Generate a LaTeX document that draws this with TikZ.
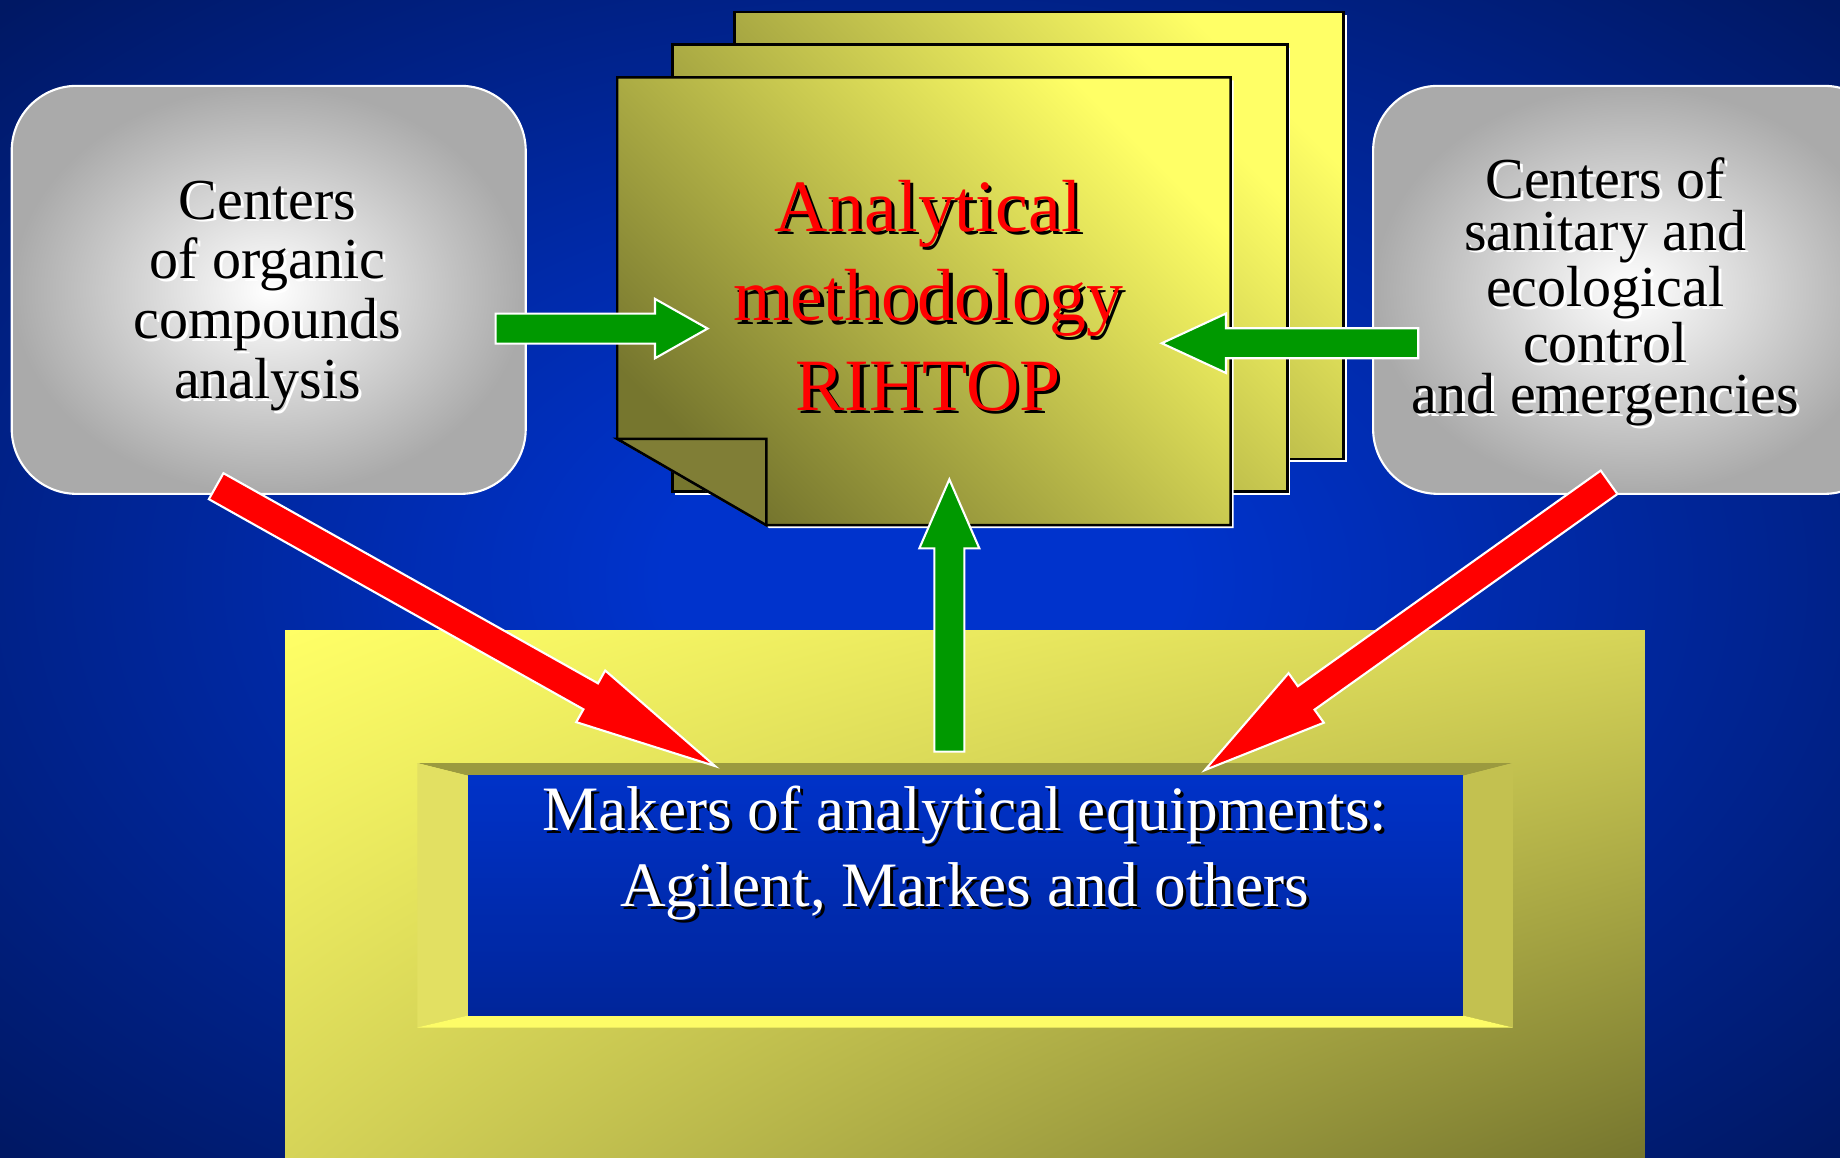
\documentclass[tikz,border=0pt]{standalone}
\usepackage{fontspec}
\setmainfont{Liberation Serif}
\usepackage{tikz}
\usetikzlibrary{calc,shadings}
\definecolor{bgdark}{RGB}{0,24,100}
\definecolor{bglight}{RGB}{0,51,204}
\definecolor{boxgray}{RGB}{170,170,170}
\definecolor{pagelight}{RGB}{255,255,102}
\definecolor{pagedark}{RGB}{118,118,46}
\definecolor{panelmid}{RGB}{214,212,88}
\definecolor{foldolive}{RGB}{128,126,54}
\definecolor{bevtop}{RGB}{155,154,63}
\definecolor{bevleft}{RGB}{226,224,98}
\definecolor{bevright}{RGB}{195,193,80}
\definecolor{bevbot}{RGB}{253,252,103}
\definecolor{winlight}{RGB}{0,50,200}
\definecolor{windark}{RGB}{0,37,154}
\definecolor{arrowgreen}{RGB}{0,153,0}
\pgfdeclareradialshading{bgglow}{\pgfpoint{0bp}{0bp}}{color(0bp)=(bglight); color(7bp)=(bglight); color(35bp)=(bgdark); color(50bp)=(bgdark)}
\tikzset{
  graybox/.style   = {shade, inner color=white, outer color=boxgray, draw=white,
                      line width=0.6pt, rounded corners=0.65cm},
  sheet/.style     = {top color=pagelight, bottom color=pagedark, shading angle=-45,
                      draw=black, line width=0.7pt},
  basepanel/.style = {upper left=pagelight, lower right=pagedark,
                      upper right=panelmid, lower left=panelmid},
  greenarrow/.style = {fill=arrowgreen, draw=white, line width=0.6pt},
  redarrow/.style   = {fill=red, draw=white, line width=0.6pt},
  titletext/.style = {align=center, inner sep=0pt, font=\fontsize{21}{25.5}\selectfont},
  orgtext/.style   = {align=center, inner sep=0pt, font=\fontsize{16.5}{17}\selectfont},
  santext/.style   = {align=center, inner sep=0pt, font=\fontsize{16.5}{14.6}\selectfont},
  maktext/.style   = {align=center, inner sep=0pt, font=\fontsize{18}{21.6}\selectfont}
}
% block arrow: style, tail, tip, half shaft, half head, head length
\newcommand{\blockarrow}[6]{%
  \coordinate (ba) at ($(#3)!#6!(#2)$);
  \path[#1] ($(#2)!#4!90:(#3)$) -- ($(ba)!#4!90:(#3)$) -- ($(ba)!#5!90:(#3)$) -- (#3)
    -- ($(ba)!#5!-90:(#3)$) -- ($(ba)!#4!-90:(#3)$) -- ($(#2)!#4!-90:(#3)$) -- cycle;}

\begin{document}
\begin{tikzpicture}[x=0.011735cm, y=-0.011735cm]
  \useasboundingbox (0,0) rectangle (1568,986);
  \clip (0,0) rectangle (1568,986);
  \shade[shading=bgglow] (0,0) rectangle (1568,986);

  % makers panel
  \shade[basepanel] (243,537.7) rectangle (1401.8,986);
  \fill[bevtop]   (355.6,650.2) -- (1289.2,650.2) -- (1246.6,661.1) -- (399,661.1) -- cycle;
  \fill[bevleft]  (355.6,650.2) -- (399,661.1) -- (399,865.4) -- (355.6,875.6) -- cycle;
  \fill[bevright] (1289.2,650.2) -- (1289.2,875.6) -- (1246.6,865.4) -- (1246.6,661.1) -- cycle;
  \fill[bevbot]   (355.6,875.6) -- (1289.2,875.6) -- (1246.6,865.4) -- (399,865.4) -- cycle;
  \shade[top color=winlight, bottom color=windark] (399,661.1) rectangle (1246.6,865.4);
  \node[maktext, text=black, xshift=0.9pt, yshift=-0.9pt] (makersh) at (822,727)
    {Makers of analytical equipments:\\Agilent, Markes and others};
  \node[maktext, text=white] (makers) at (822,727)
    {Makers of analytical equipments:\\Agilent, Markes and others};

  % side boxes
  \node[graybox, minimum width=5.14cm, minimum height=4.08cm] (orgbox) at (229,247) {};
  \node[graybox, minimum width=5.16cm, minimum height=4.08cm] (sanbox) at (1390,247) {};
  \node[orgtext, text=white, xshift=0.8pt, yshift=-0.8pt] (orgsh) at (228,252)
    {Centers\\of organic\\compounds\\analysis};
  \node[orgtext] (org) at (228,252) {Centers\\of organic\\compounds\\analysis};
  \node[santext, text=white, xshift=0.8pt, yshift=-0.8pt] (sansh) at (1368,249)
    {Centers of\\sanitary and\\ecological\\control\\and emergencies};
  \node[santext] (san) at (1368,249)
    {Centers of\\sanitary and\\ecological\\control\\and emergencies};

  % stack of pages
  \foreach \px/\py/\w in {626/10/519, 573/38/524} {
    \fill[white] (\px+2.5,\py+2.5) rectangle ++(\w,381);
    \shade[sheet] (\px,\py) rectangle ++(\w,381);
  }
  \fill[white] (528.5,68.5) -- (1051.2,68.5) -- (1051.2,450) -- (655.5,450) -- (528.5,376.5) -- cycle;
  \shade[sheet] (526,66) -- (1048.7,66) -- (1048.7,447.5) -- (653,447.5) -- (526,374) -- cycle;
  \filldraw[fill=foldolive, draw=black, line width=0.7pt] (526,374) -- (653,374) -- (653,447.5) -- cycle;
  \node[titletext, text=black, xshift=0.9pt, yshift=-0.9pt] (methsh) at (791,252)
    {Analytical\\methodology\\RIHTOP};
  \node[titletext, text=red] (meth) at (791,252) {Analytical\\methodology\\RIHTOP};

  % connectors
  \coordinate (orgout) at (422.4,280);
  \coordinate (methw)  at (603,280);
  \coordinate (sanout) at (1208.6,292.5);
  \coordinate (methe)  at (990,292.5);
  \coordinate (makout) at (809,640.5);
  \coordinate (meths)  at (809,408.5);
  \coordinate (orgred) at (184.2,414.3);
  \coordinate (makw)   at (609.3,652.8);
  \coordinate (sanred) at (1371.2,411);
  \coordinate (make)   at (1026.8,656.2);
  \blockarrow{greenarrow}{orgout}{methw}{0.15cm}{0.297cm}{0.526cm}
  \blockarrow{greenarrow}{sanout}{methe}{0.15cm}{0.297cm}{0.642cm}
  \blockarrow{greenarrow}{makout}{meths}{0.15cm}{0.30cm}{0.69cm}
  \blockarrow{redarrow}{orgred}{makw}{0.149cm}{0.296cm}{1.425cm}
  \blockarrow{redarrow}{sanred}{make}{0.144cm}{0.304cm}{1.243cm}
\end{tikzpicture}
\end{document}
